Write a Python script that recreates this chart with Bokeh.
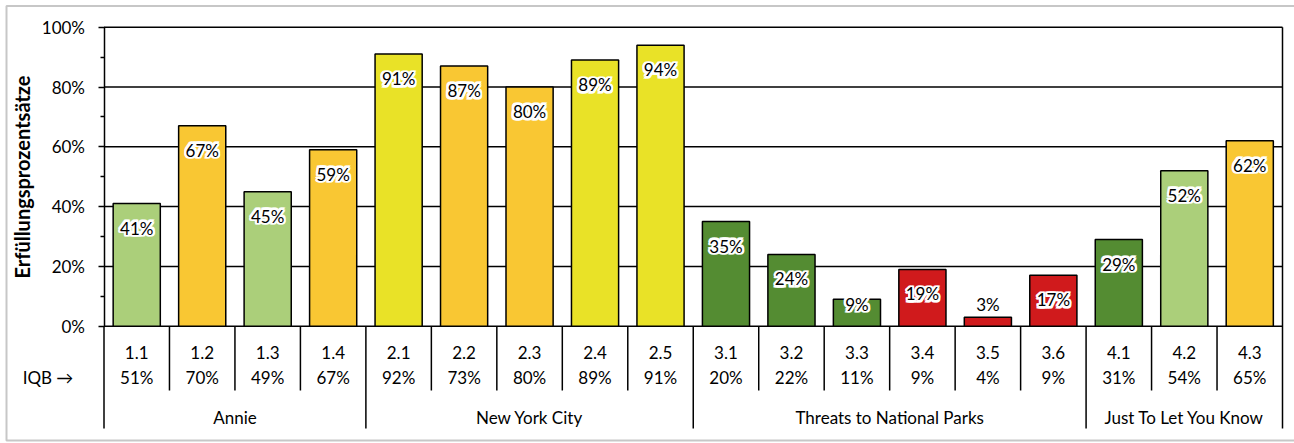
import numpy as np
from bokeh.plotting import figure
from bokeh.models import (FixedTicker, BoxAnnotation, Range1d,
                          PrintfTickFormatter, ColumnDataSource)
from bokeh.core.properties import value
from bokeh.embed import file_html
from bokeh.resources import INLINE

# ---------------- data ----------------
codes = ["1.1", "1.2", "1.3", "1.4", "2.1", "2.2", "2.3", "2.4", "2.5",
         "3.1", "3.2", "3.3", "3.4", "3.5", "3.6", "4.1", "4.2", "4.3"]
rates = [41, 67, 45, 59, 91, 87, 80, 89, 94, 35, 24, 9, 19, 3, 17, 29, 52, 62]
iqb = [51, 70, 49, 67, 92, 73, 80, 89, 91, 20, 22, 11, 9, 4, 9, 31, 54, 65]
groups = ["Annie", "New York City", "Threats to National Parks", "Just To Let You Know"]
group_sizes = [4, 5, 6, 3]
color_class = ["lg", "or", "lg", "or", "ye", "or", "or", "ye", "ye",
               "dg", "dg", "dg", "rd", "rd", "rd", "dg", "lg", "or"]
y_ticks = [0, 20, 40, 60, 80, 100]
y_minor = [10, 30, 50, 70, 90]
y_title = "Erfüllungsprozentsätze"
row_label = "IQB →"

# ---------------- styles / layout ----------------
palette = {"lg": "#ABCF7A", "or": "#F9C733", "ye": "#E9E227",
           "dg": "#548C32", "rd": "#D01A1C"}
FONT = "Lato"
FS = "17px"
W, H = 1294, 443
PX_L, PX_R = 103.5, 1282.0      # plot area left / right (pixels)
PY_T, PY_B = 26.7, 325.7        # 100% / 0% (pixels)

n = len(codes)
xs = np.arange(n) + 0.5
colors = [palette[c] for c in color_class]

sx = (PX_R - PX_L) / n
sy = (PY_B - PY_T) / 100.0


def xpx(px):
    return (px - PX_L) / sx


def ypx(py):
    return (PY_B - py) / sy


p = figure(width=W, height=H,
           x_range=Range1d(xpx(0), xpx(W)), y_range=Range1d(ypx(H), ypx(0)),
           output_backend="svg", toolbar_location=None,
           x_axis_location=None,
           min_border=0, min_border_left=0, min_border_right=0,
           min_border_top=0, min_border_bottom=0)
p.outline_line_color = None
p.xgrid.visible = False
p.ygrid.visible = False
p.background_fill_color = "white"
p.border_fill_color = "white"

# y axis (placed at x = 0 of the data)
ax = p.yaxis[0]
ax.fixed_location = 0
ax.ticker = FixedTicker(ticks=y_ticks, minor_ticks=y_minor)
ax.formatter = PrintfTickFormatter(format="%d%%")
ax.bounds = (0, 100)
ax.axis_line_color = "black"
ax.axis_line_width = 1.5
ax.major_tick_line_color = "black"
ax.major_tick_line_width = 1.5
ax.major_tick_out = 6
ax.major_tick_in = 0
ax.minor_tick_line_color = "black"
ax.minor_tick_line_width = 1.5
ax.minor_tick_out = 4
ax.minor_tick_in = 0
ax.major_label_text_font = FONT
ax.major_label_text_font_size = FS
ax.major_label_text_color = "black"
ax.major_label_standoff = 13
ax.axis_label = y_title
ax.axis_label_text_font = FONT
ax.axis_label_text_font_size = "20px"
ax.axis_label_text_font_style = "bold"
ax.axis_label_text_color = "black"
ax.axis_label_standoff = 5

# horizontal grid lines across the plot area
p.segment(x0=[0] * len(y_ticks), x1=[n] * len(y_ticks), y0=y_ticks, y1=y_ticks,
          line_color="black", line_width=1.5)

# bars
src = ColumnDataSource(dict(x=xs, top=rates, color=colors,
                            lab=[f"{v}%" for v in rates],
                            laby=np.maximum(np.array(rates) - 8.2, 7.4)))
p.vbar(x="x", top="top", bottom=0, width=0.72, fill_color="color",
       line_color="black", line_width=1.5, source=src)

# data labels with a white halo (white copies shifted around the label)
offs = [(dx, dy) for dx in (-1.6, 0, 1.6) for dy in (-1.6, 0, 1.6)
        if (dx, dy) != (0, 0)]
halo = ColumnDataSource(dict(
    x=np.repeat(xs, len(offs)),
    y=np.repeat(src.data["laby"], len(offs)),
    t=np.repeat(src.data["lab"], len(offs)),
    dx=[o[0] for o in offs] * n,
    dy=[o[1] for o in offs] * n))
p.text(x="x", y="y", text="t", x_offset="dx", y_offset="dy", source=halo,
       text_align="center", text_baseline="middle", text_font=value(FONT),
       text_font_size=FS, text_color="white", text_outline_color="white")
p.text(x="x", y="laby", text="lab", source=src, text_align="center",
       text_baseline="middle", text_font=value(FONT), text_font_size=FS,
       text_color="black")

# category table below the axis
bounds = np.concatenate([[0], np.cumsum(group_sizes)])
sub_x = [i for i in range(1, n) if i not in set(bounds.tolist())]
p.segment(x0=sub_x, x1=sub_x, y0=[0] * len(sub_x), y1=[ypx(390)] * len(sub_x),
          line_color="black", line_width=1.5)
gtop = [0.0] * len(bounds)
gtop[-1] = 100
p.segment(x0=bounds, x1=bounds, y0=gtop, y1=[ypx(428)] * len(bounds),
          line_color="black", line_width=1.5)

p.text(x=xs, y=[ypx(352)] * n, text=codes, text_align="center",
       text_baseline="middle", text_font=value(FONT), text_font_size=FS,
       text_color="black")
p.text(x=xs, y=[ypx(377)] * n, text=[f"{v}%" for v in iqb], text_align="center",
       text_baseline="middle", text_font=value(FONT), text_font_size=FS,
       text_color="black")
gmid = (bounds[:-1] + bounds[1:]) / 2
p.text(x=gmid, y=[ypx(417)] * len(groups), text=groups, text_align="center",
       text_baseline="middle", text_font=value(FONT), text_font_size=FS,
       text_color="black")
p.text(x=[xpx(47.5)], y=[ypx(377)], text=[row_label], text_align="center",
       text_baseline="middle", text_font=value(FONT), text_font_size=FS,
       text_color="black")

# outer chart border
p.add_layout(BoxAnnotation(left=xpx(6), right=xpx(1300), top=ypx(5.5),
                           bottom=ypx(440), fill_color=None, fill_alpha=0,
                           line_color="#454545", line_width=2))

open("out.html", "w").write(file_html(p, INLINE))
